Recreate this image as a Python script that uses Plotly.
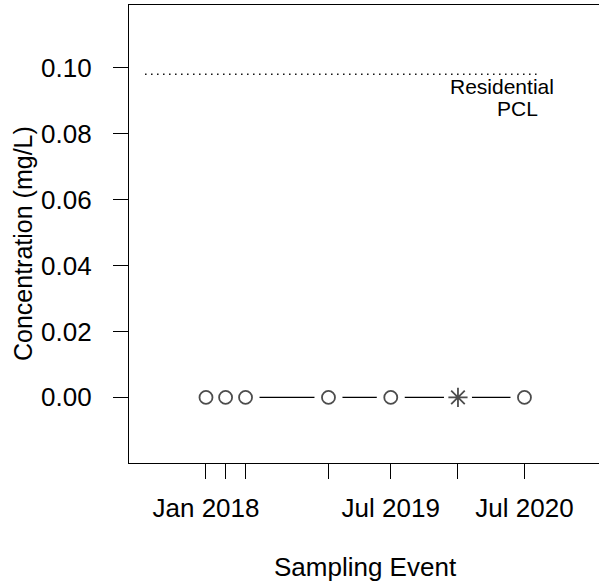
import plotly.graph_objects as go
import pandas as pd

# ---- data ----
sample_dates = ["2018-01-30", "2018-03-27", "2018-05-23", "2019-01-15",
                "2019-07-12", "2020-01-20", "2020-07-28"]
concentrations = [0.0, 0.0, 0.0, 0.0, 0.0, 0.0, 0.0]
flagged = [False, False, False, False, False, True, False]
tick_labels = ["Jan 2018", "", "", "", "Jul 2019", "", "Jul 2020"]
pcl_value = 0.098
pcl_label_1 = "Residential"
pcl_label_2 = "PCL"
y_ticks = [0.00, 0.02, 0.04, 0.06, 0.08, 0.10]

dates = pd.to_datetime(sample_dates)
FONT = "Liberation Sans, Arial, Helvetica, sans-serif"

fig = go.Figure()

# PCL reference line (dotted)
pcl_x = [dates[0] - pd.Timedelta(days=174), dates[-1] + pd.Timedelta(days=36)]
fig.add_trace(go.Scatter(x=pcl_x, y=[pcl_value, pcl_value], mode="lines",
                         line=dict(color="black", width=1.4, dash="1.4px,4.6px"),
                         hoverinfo="skip", showlegend=False))

# connecting line
fig.add_trace(go.Scatter(x=dates, y=concentrations, mode="lines",
                         line=dict(color="black", width=1.3),
                         hoverinfo="skip", showlegend=False))
# white halo to create gaps around points (R type="b")
fig.add_trace(go.Scatter(x=dates, y=concentrations, mode="markers",
                         marker=dict(symbol="circle", size=28, color="white",
                                     line=dict(width=0)),
                         hoverinfo="skip", showlegend=False))
# points
symbols = ["asterisk-open" if f else "circle-open" for f in flagged]
sizes = [16 if f else 13 for f in flagged]
fig.add_trace(go.Scatter(x=dates, y=concentrations, mode="markers",
                         marker=dict(symbol=symbols, size=sizes, color="black",
                                     line=dict(color="black", width=1.8)),
                         showlegend=False))

# axis range (x spans past right edge like the original frame)
x0 = dates[0] - pd.Timedelta(days=220)
x1 = dates[0] + pd.Timedelta(days=1123)

fig.update_xaxes(type="date", range=[x0, x1],
                 tickvals=dates, ticktext=tick_labels,
                 ticks="outside", ticklen=15, tickwidth=1.3, tickcolor="black",
                 showline=True, linecolor="black", linewidth=1.3, mirror=True,
                 showgrid=False, zeroline=False,
                 tickfont=dict(family=FONT, size=26, color="black"),
                 ticklabelstandoff=7)
fig.update_yaxes(range=[-0.0199, 0.119], tickvals=y_ticks,
                 ticktext=[f"{v:.2f}" for v in y_ticks],
                 ticks="outside", ticklen=15, tickwidth=1.3, tickcolor="black",
                 showline=True, linecolor="black", linewidth=1.3,
                 showgrid=False, zeroline=False,
                 tickfont=dict(family=FONT, size=26, color="black"),
                 ticklabelstandoff=16)

W, H = 599, 586
L, T, B, R = 129, 5, 123, 0
pw, ph = W - L - R, H - T - B

def px(x):
    return (x - L) / pw

def py(y):
    return (H - B - y) / ph

annos = [
    dict(text=pcl_label_1, x=px(502), y=py(86), size=21),
    dict(text=pcl_label_2, x=px(517), y=py(108.5), size=21),
    dict(text="Sampling Event", x=px(365), y=py(567), size=26),
]
for a in annos:
    fig.add_annotation(text=a["text"], x=a["x"], y=a["y"], xref="paper", yref="paper",
                       xanchor="center", yanchor="middle", showarrow=False,
                       font=dict(family=FONT, size=a["size"], color="black"))
fig.add_annotation(text="Concentration (mg/L)", x=px(23), y=py(244),
                   xref="paper", yref="paper", xanchor="center", yanchor="middle",
                   textangle=-90, showarrow=False,
                   font=dict(family=FONT, size=25, color="black"))

fig.update_layout(width=W, height=H, margin=dict(l=L, r=R, t=T, b=B, autoexpand=False),
                  paper_bgcolor="white", plot_bgcolor="white", showlegend=False)

fig.write_html("out.html", config={"displayModeBar": False},
               post_script="document.body.style.margin='0';document.body.style.overflow='hidden';")
